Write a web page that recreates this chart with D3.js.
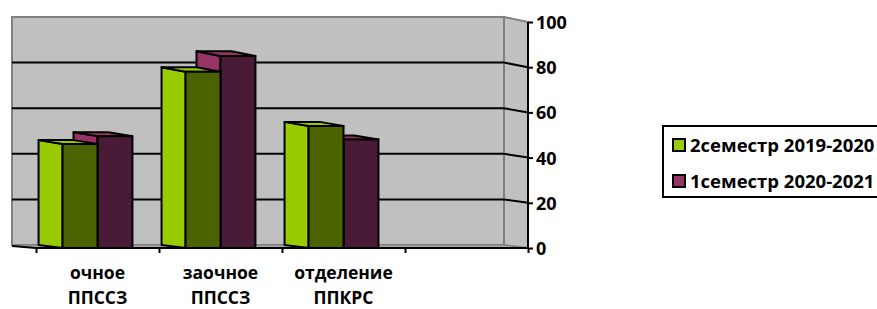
<!DOCTYPE html>
<html>
<head>
<meta charset="utf-8">
<script src="https://cdn.jsdelivr.net/npm/d3@7"></script>
<style>
  body { margin: 0; background: #fff; }
  svg text { font-family: "Open Sans", sans-serif; font-weight: bold; fill: #000; }
</style>
</head>
<body>
<div id="chart"></div>
<script>
// data
var categories = [["очное", "ППССЗ"], ["заочное", "ППССЗ"], ["отделение", "ППКРС"], ["", ""]],
    seriesNames = ["2семестр 2019-2020", "1семестр 2020-2021"],
    seriesValues = [
      [46, 78, 54],   // 2семестр 2019-2020
      [49.5, 85, 48]  // 1семестр 2020-2021
    ],
    yTicks = [0, 20, 40, 60, 80, 100];

var width = 877, height = 309,
    depth = {dx: -24}, // how far back the back wall sits
    colors = [{front: "#4b6300", side: "#99cc00"}, {front: "#4a1b37", side: "#993366"}];

var svg = d3.select('#chart').append('svg')
    .attr('width', width).attr('height', height);

// front plane and back wall use slightly different vertical scales (perspective)
var yFront = d3.scaleLinear().domain([0, 100]).range([248, 22]),
    yBack = d3.scaleLinear().domain([0, 100]).range([245, 17]);

var x0 = d3.scaleBand()
    .domain(d3.range(categories.length))
    .range([36, 528]);

var x1 = d3.scaleBand()
    .domain(d3.range(seriesNames.length))
    .range([0, x0.bandwidth()])
    .paddingOuter(0.76);

var left = x0.range()[0], right = x0.range()[1];

function pts(a) { return a.map(function(p) { return p.join(','); }).join(' '); }

// back wall
svg.append('polygon')
    .attr('points', pts([[left + depth.dx, yBack(100)], [right + depth.dx, yBack(100)],
                         [right + depth.dx, yBack(0)], [left + depth.dx, yBack(0)]]))
    .attr('fill', '#c0c0c0').attr('stroke', '#808080').attr('stroke-width', 2);

// right side wall
svg.append('polygon')
    .attr('points', pts([[right + depth.dx, yBack(100)], [right, yFront(100)],
                         [right, yFront(0)], [right + depth.dx, yBack(0)]]))
    .attr('fill', '#c0c0c0').attr('stroke', '#808080').attr('stroke-width', 2);

// floor
svg.append('polygon')
    .attr('points', pts([[left + depth.dx, yBack(0)], [right + depth.dx, yBack(0)],
                         [right, yFront(0)], [left, yFront(0)]]))
    .attr('fill', '#a8a8a8').attr('stroke', '#808080').attr('stroke-width', 1);
svg.append('line')
    .attr('x1', left + depth.dx).attr('y1', yBack(0) + 1)
    .attr('x2', left).attr('y2', yFront(0))
    .attr('stroke', '#000').attr('stroke-width', 2);

// gridlines on back and side wall
var grid = svg.append('g').attr('class', 'grid');
yTicks.filter(function(t) { return t > 0 && t < 100; }).forEach(function(t) {
  grid.append('polyline')
      .attr('points', pts([[left + depth.dx, yBack(t)], [right + depth.dx, yBack(t)], [right, yFront(t)]]))
      .attr('fill', 'none').attr('stroke', '#000').attr('stroke-width', 2);
});

// bars, drawn right to left inside each category so left faces overlap properly
var bars = svg.append('g').attr('class', 'bars');
categories.forEach(function(c, ci) {
  for (var si = seriesNames.length - 1; si >= 0; si--) {
    var v = seriesValues[si][ci];
    if (v == null) continue;
    var xf0 = x0(ci) + x1(si), xf1 = xf0 + x1.bandwidth(),
        xb0 = xf0 + depth.dx, xb1 = xf1 + depth.dx,
        g = bars.append('g').attr('stroke', '#000').attr('stroke-width', 2).attr('stroke-linejoin', 'round');

    g.append('polygon') // left face
        .attr('points', pts([[xb0, yBack(v)], [xf0, yFront(v)], [xf0, yFront(0)], [xb0, yBack(0)]]))
        .attr('fill', colors[si].side);
    g.append('polygon') // top face
        .attr('points', pts([[xb0, yBack(v)], [xb1, yBack(v)], [xf1, yFront(v)], [xf0, yFront(v)]]))
        .attr('fill', colors[si].side);
    g.append('polygon') // front face
        .attr('points', pts([[xf0, yFront(v)], [xf1, yFront(v)], [xf1, yFront(0)], [xf0, yFront(0)]]))
        .attr('fill', colors[si].front);
  }
});

// value axis on the right
var yAxis = d3.axisRight(yFront).tickValues(yTicks).tickSize(5).tickPadding(3);
svg.append('g')
    .attr('class', 'y axis')
    .attr('transform', 'translate(' + right + ',0)')
    .call(yAxis)
    .call(function(g) {
      g.select('.domain').attr('stroke', '#000').attr('stroke-width', 2).attr('d', 'M0,' + yFront(100) + 'V' + yFront(0));
      g.selectAll('.tick line').attr('stroke', '#000').attr('stroke-width', 2);
      g.selectAll('.tick text').style('font-size', '18px').attr('dy', '0.36em');
    });

// category axis, ticks at band edges
var xEdges = d3.scaleLinear().domain([0, categories.length]).range([left, right]);
svg.append('g')
    .attr('class', 'x axis')
    .attr('transform', 'translate(0,' + yFront(0) + ')')
    .call(d3.axisBottom(xEdges).ticks(categories.length).tickSize(5).tickFormat(''))
    .call(function(g) {
      g.select('.domain').attr('stroke', '#000').attr('stroke-width', 2).attr('d', 'M' + left + ',0H' + right);
      g.selectAll('.tick line').attr('stroke', '#000').attr('stroke-width', 2);
    });

var labels = svg.append('g').attr('class', 'cat-labels');
categories.forEach(function(c, ci) {
  var t = labels.append('text')
      .attr('text-anchor', 'middle')
      .style('font-size', '17.5px');
  c.forEach(function(line, li) {
    t.append('tspan')
        .attr('x', x0(ci) + x0.bandwidth() / 2)
        .attr('y', 279 + li * 25)
        .text(line);
  });
});

// legend
var legend = svg.append('g').attr('class', 'legend').attr('transform', 'translate(663,126)');
legend.append('rect')
    .attr('width', 230).attr('height', 71)
    .attr('fill', '#fff').attr('stroke', '#000').attr('stroke-width', 2);
seriesNames.forEach(function(name, i) {
  var row = legend.append('g').attr('transform', 'translate(10,' + (13 + i * 36) + ')');
  row.append('rect')
      .attr('width', 12).attr('height', 12)
      .attr('fill', colors[i].side).attr('stroke', '#000').attr('stroke-width', 2);
  row.append('text')
      .attr('x', 17).attr('y', 12.5)
      .style('font-size', '18.5px')
      .text(name);
});
</script>
</body>
</html>
